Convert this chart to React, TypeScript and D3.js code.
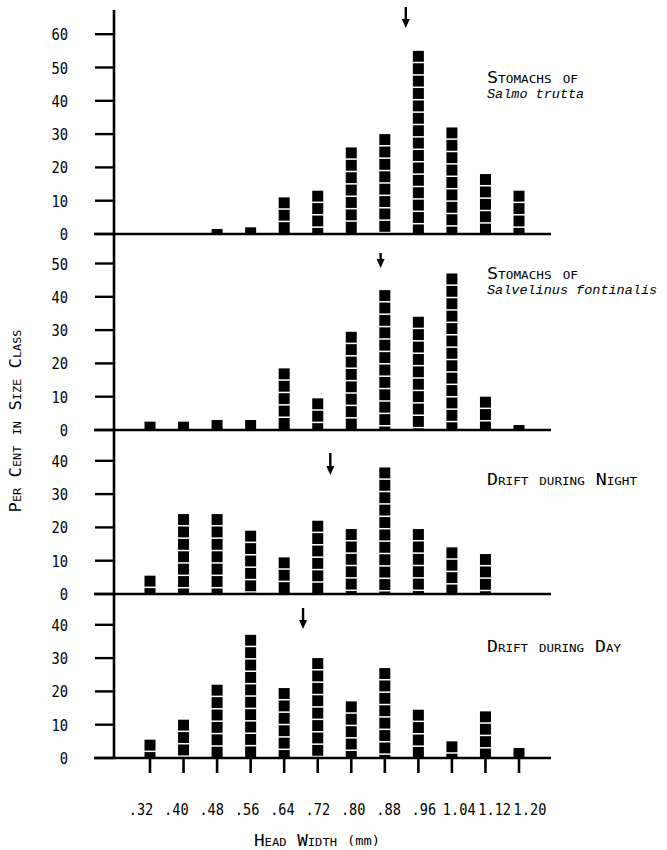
import React from "react";
import * as d3 from "d3";

// head width classes (mm)
const headWidths = [0.32, 0.4, 0.48, 0.56, 0.64, 0.72, 0.8, 0.88, 0.96, 1.04, 1.12, 1.2];
const widthLabels = [".32", ".40", ".48", ".56", ".64", ".72", ".80", ".88", ".96", "1.04", "1.12", "1.20"];

// per cent in size class
const troutStomachs = [0, 0, 1.5, 2, 11, 13, 26, 30, 55, 32, 18, 13];
const brookStomachs = [2.5, 2.5, 3, 3, 18.5, 9.5, 29.5, 42, 34, 47, 10, 1.5];
const nightDrift = [5.5, 24, 24, 19, 11, 22, 19.5, 38, 19.5, 14, 12, 0];
const dayDrift = [5.5, 11.5, 22, 37, 21, 30, 17, 27, 14.5, 5, 14, 3];

// mean head width (arrows)
const meanWidths = [0.93, 0.87, 0.75, 0.685];

const yTicks = [
  [0, 10, 20, 30, 40, 50, 60],
  [0, 10, 20, 30, 40, 50],
  [0, 10, 20, 30, 40],
  [0, 10, 20, 30, 40],
];

const titles = ["Stomachs of", "Stomachs of", "Drift during Night", "Drift during Day"];
const species = ["Salmo trutta", "Salvelinus fontinalis", "", ""];

const series = [troutStomachs, brookStomachs, nightDrift, dayDrift];

// layout
const W = 667;
const H = 850;
const axisX = 114;
const rightX = 551;
const baselines = [234, 430, 594, 758];
const titleYs = [83, 279, 485, 652];
const titleLens = [91, 91, 150, 134];
const arrowTops = [7, 253, 453, 608];
const arrowBottoms = [28, 268, 475, 629];
const barW = 11;
const period = 12.4;
const gap = 1.5;

const mono = "'DejaVu Sans Mono', 'Liberation Mono', monospace";
const italicMono = "'Liberation Mono', 'DejaVu Sans Mono', monospace";

const x = d3.scaleLinear().domain([0.32, 1.2]).range([150, 519]);
const xLabel = d3.scaleLinear().domain([0.32, 1.2]).range([141, 530]);

const Bar = ({ cx, top, base }: { cx: number; top: number; base: number }) => {
  const gaps: number[] = [];
  for (let g = top + period - gap; g < base - 2; g += period) gaps.push(g);
  return (
    <g>
      <rect x={cx - barW / 2} y={top} width={barW} height={base - top} fill="#000" />
      {gaps.map((g, i) => (
        <rect key={i} x={cx - barW / 2 - 0.5} y={g} width={barW + 1} height={gap} fill="#fff" />
      ))}
    </g>
  );
};

const Panel = ({ idx }: { idx: number }) => {
  const base = baselines[idx];
  const y = d3.scaleLinear().domain([0, 10]).range([base, base - 33.3]);
  const vals = series[idx];
  const mx = x(meanWidths[idx]);
  const aTop = arrowTops[idx];
  const aBot = arrowBottoms[idx];
  return (
    <g>
      {vals.map((v, i) =>
        v > 0 ? <Bar key={i} cx={x(headWidths[i])} top={y(v)} base={base} /> : null
      )}
      <line x1={axisX - 20} x2={rightX} y1={base} y2={base} stroke="#000" strokeWidth={2.6} />
      {yTicks[idx].map((t) => (
        <g key={t}>
          <line x1={axisX - 19} x2={axisX} y1={y(t)} y2={y(t)} stroke="#000" strokeWidth={2.4} />
          <text x={68} y={y(t) + 6} textAnchor="end" fontFamily={mono} fontSize={16}
            textLength={String(t).length * 8.3} lengthAdjust="spacingAndGlyphs">
            {t}
          </text>
        </g>
      ))}
      <line x1={mx} x2={mx} y1={aTop} y2={aBot - 6} stroke="#000" strokeWidth={2.4} />
      <path d={`M${mx - 4},${aBot - 9}L${mx + 4},${aBot - 9}L${mx},${aBot}Z`} fill="#000" />
      <text
        x={487}
        y={titleYs[idx]}
        fontFamily={mono}
        fontSize={16}
        fontVariant="small-caps"
        textLength={titleLens[idx]}
        lengthAdjust="spacingAndGlyphs"
      >
        {titles[idx]}
      </text>
      {species[idx] && (
        <text x={487} y={titleYs[idx] + 15} fontFamily={italicMono} fontStyle="italic" fontSize={13.5}>
          {species[idx]}
        </text>
      )}
    </g>
  );
};

export default function App() {
  const bottom = baselines[3];
  return (
    <svg width={W} height={H} style={{ position: "absolute", left: 0, top: 0, background: "#fff" }}>
      <rect width={W} height={H} fill="#fff" />
      {series.map((_, i) => (
        <Panel key={i} idx={i} />
      ))}
      <line x1={axisX} x2={axisX} y1={10} y2={bottom} stroke="#000" strokeWidth={2.6} />
      {headWidths.map((h, i) => (
        <g key={i}>
          <line x1={x(h)} x2={x(h)} y1={bottom} y2={bottom + 15} stroke="#000" strokeWidth={2.6} />
          <text x={xLabel(h)} y={815} textAnchor="middle" fontFamily={mono} fontSize={16}
            textLength={widthLabels[i].length * 8.2} lengthAdjust="spacingAndGlyphs">
            {widthLabels[i]}
          </text>
        </g>
      ))}
      <text
        transform="translate(21,421) rotate(-90)"
        textAnchor="middle"
        fontFamily={mono}
        fontSize={16}
        fontVariant="small-caps"
        textLength={183}
        lengthAdjust="spacingAndGlyphs"
      >
        Per Cent in Size Class
      </text>
      <text
        x={254}
        y={846}
        fontFamily={mono}
        fontSize={16}
        fontVariant="small-caps"
        textLength={83}
        lengthAdjust="spacingAndGlyphs"
      >
        Head Width
      </text>
      <text x={347} y={845} fontFamily={mono} fontSize={13} textLength={33} lengthAdjust="spacingAndGlyphs">
        (mm)
      </text>
    </svg>
  );
}
